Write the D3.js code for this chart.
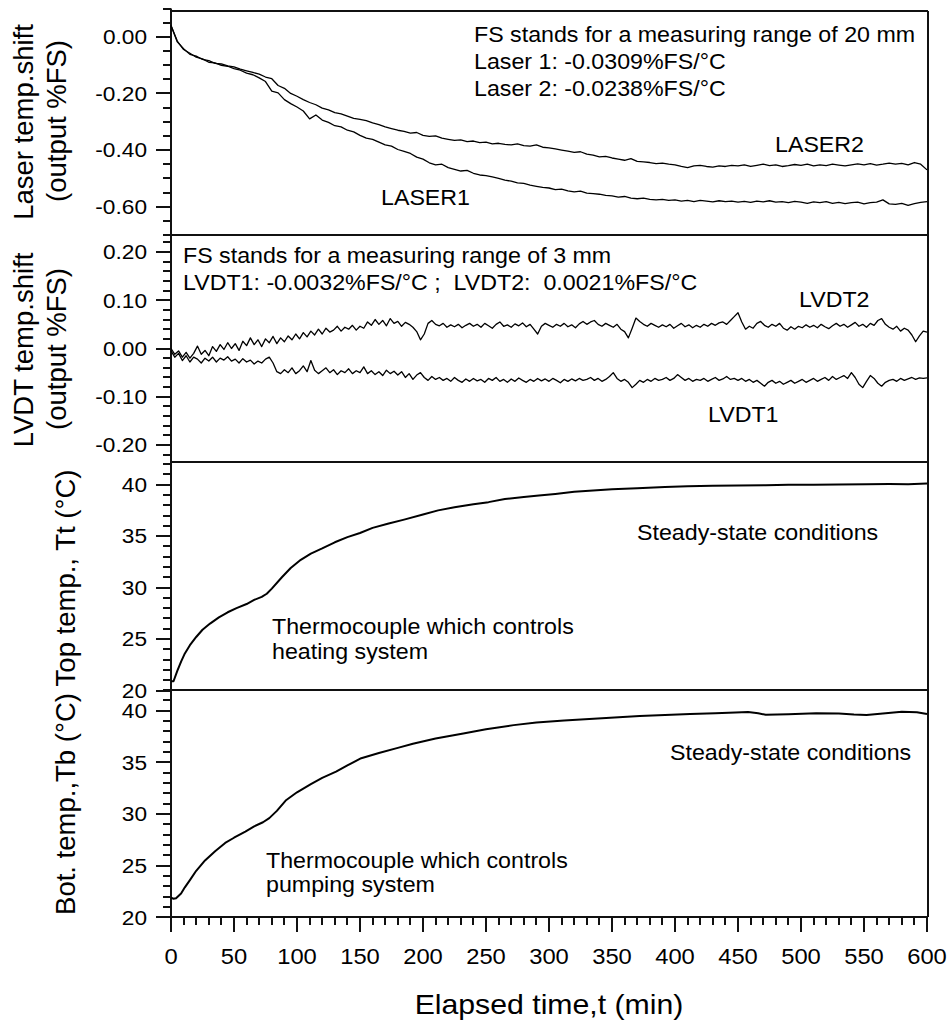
<!DOCTYPE html>
<html>
<head>
<meta charset="utf-8">
<script src="https://cdn.jsdelivr.net/npm/d3@7"></script>
<style>
  html, body { margin: 0; padding: 0; background: #fff; }
  svg text { font-family: "Liberation Sans", Arial, Helvetica, sans-serif; fill: #000; white-space: pre; }
</style>
</head>
<body>
<svg id="chart" width="949" height="1021"></svg>
<script>
// ---------------- data ----------------
// Laser temperature shift (output %FS), sampled every 5 min
const laserMinutes = d3.range(0, 601, 5);
const laser1 = [
  0.040, -0.015, -0.045, -0.058, -0.072, -0.078, -0.090, -0.092, -0.101, -0.104,
  -0.112, -0.118, -0.128, -0.134, -0.145, -0.158, -0.192, -0.198, -0.222, -0.236,
  -0.248, -0.262, -0.290, -0.276, -0.294, -0.302, -0.314, -0.318, -0.330, -0.336,
  -0.348, -0.358, -0.362, -0.372, -0.382, -0.386, -0.398, -0.405, -0.412, -0.425,
  -0.432, -0.445, -0.452, -0.450, -0.462, -0.468, -0.474, -0.472, -0.482, -0.488,
  -0.490, -0.495, -0.500, -0.506, -0.510, -0.516, -0.518, -0.524, -0.528, -0.532,
  -0.534, -0.540, -0.538, -0.544, -0.548, -0.545, -0.552, -0.554, -0.556, -0.560,
  -0.562, -0.566, -0.564, -0.570, -0.572, -0.570, -0.574, -0.576, -0.574, -0.578,
  -0.576, -0.580, -0.578, -0.582, -0.578, -0.580, -0.583, -0.579, -0.582, -0.580,
  -0.584, -0.581, -0.585, -0.580, -0.583, -0.579, -0.584, -0.582, -0.586, -0.581,
  -0.584, -0.588, -0.583, -0.586, -0.582, -0.588, -0.585, -0.589, -0.586, -0.584,
  -0.590, -0.586, -0.584, -0.576, -0.590, -0.592, -0.588, -0.595, -0.589, -0.585,
  -0.582
];
const laser2 = [
  0.040, -0.018, -0.042, -0.062, -0.068, -0.080, -0.084, -0.094, -0.096, -0.103,
  -0.106, -0.114, -0.120, -0.126, -0.132, -0.142, -0.148, -0.172, -0.182, -0.200,
  -0.210, -0.222, -0.232, -0.240, -0.252, -0.258, -0.268, -0.272, -0.280, -0.288,
  -0.292, -0.296, -0.304, -0.310, -0.318, -0.324, -0.330, -0.334, -0.340, -0.338,
  -0.348, -0.352, -0.350, -0.358, -0.362, -0.366, -0.364, -0.370, -0.368, -0.374,
  -0.372, -0.378, -0.376, -0.380, -0.382, -0.378, -0.384, -0.386, -0.382, -0.390,
  -0.392, -0.396, -0.400, -0.404, -0.408, -0.406, -0.414, -0.418, -0.424, -0.422,
  -0.428, -0.432, -0.436, -0.430, -0.440, -0.442, -0.444, -0.448, -0.446, -0.450,
  -0.452, -0.458, -0.462, -0.456, -0.454, -0.458, -0.460, -0.456, -0.458, -0.454,
  -0.456, -0.452, -0.458, -0.454, -0.450, -0.455, -0.452, -0.458, -0.455, -0.451,
  -0.454, -0.450, -0.456, -0.452, -0.455, -0.450, -0.453, -0.456, -0.452, -0.449,
  -0.452, -0.448, -0.453, -0.450, -0.446, -0.450, -0.447, -0.452, -0.444, -0.450,
  -0.470
];

// LVDT temperature shift (output %FS), sampled every 3 min
const lvdtMinutes = d3.range(0, 601, 3);
const lvdt1 = [
  -0.005, -0.018, -0.010, -0.025, -0.015, -0.028, -0.018, -0.022, -0.030, -0.020,
  -0.026, -0.018, -0.028, -0.020, -0.024, -0.017, -0.026, -0.022, -0.030, -0.021,
  -0.028, -0.024, -0.032, -0.026, -0.030, -0.022, -0.018, -0.030, -0.048, -0.052,
  -0.044, -0.050, -0.040, -0.052, -0.046, -0.036, -0.048, -0.025, -0.045, -0.052,
  -0.046, -0.040, -0.050, -0.044, -0.054, -0.046, -0.050, -0.042, -0.052, -0.046,
  -0.050, -0.038, -0.052, -0.046, -0.054, -0.048, -0.056, -0.045, -0.052, -0.047,
  -0.055, -0.048, -0.060, -0.052, -0.064, -0.055, -0.050, -0.060, -0.066, -0.058,
  -0.064, -0.060, -0.066, -0.062, -0.068, -0.060, -0.066, -0.070, -0.063, -0.068,
  -0.062, -0.067, -0.064, -0.070, -0.062, -0.066, -0.060, -0.068, -0.064, -0.070,
  -0.063, -0.068, -0.061, -0.066, -0.070, -0.064, -0.068, -0.062, -0.067, -0.063,
  -0.068, -0.062, -0.066, -0.071, -0.064, -0.068, -0.063, -0.067, -0.062, -0.066,
  -0.064, -0.060, -0.066, -0.062, -0.068, -0.064, -0.058, -0.050, -0.062, -0.068,
  -0.064, -0.070, -0.081, -0.074, -0.066, -0.070, -0.064, -0.068, -0.062, -0.066,
  -0.064, -0.060, -0.066, -0.062, -0.054, -0.060, -0.066, -0.062, -0.068, -0.064,
  -0.066, -0.062, -0.068, -0.064, -0.060, -0.066, -0.063, -0.058, -0.064, -0.062,
  -0.066, -0.062, -0.068, -0.064, -0.070, -0.066, -0.072, -0.078, -0.070, -0.066,
  -0.072, -0.068, -0.074, -0.070, -0.066, -0.072, -0.068, -0.064, -0.070, -0.066,
  -0.062, -0.068, -0.064, -0.060, -0.066, -0.058, -0.064, -0.060, -0.056, -0.062,
  -0.050, -0.060, -0.074, -0.081, -0.068, -0.056, -0.062, -0.072, -0.078, -0.070,
  -0.066, -0.064, -0.068, -0.062, -0.066, -0.063, -0.060, -0.064, -0.061, -0.062,
  -0.061
];
const lvdt2 = [
  0.000, -0.012, -0.005, -0.018, -0.008, -0.020, -0.010, 0.005, -0.012, -0.004,
  -0.015, 0.004, -0.006, 0.008, -0.002, 0.012, 0.000, 0.010, -0.004, 0.015,
  0.006, 0.022, 0.008, 0.018, 0.004, 0.020, 0.012, 0.025, 0.010, 0.022,
  0.014, 0.026, 0.018, 0.030, 0.020, 0.033, 0.024, 0.036, 0.028, 0.040,
  0.030, 0.042, 0.034, 0.038, 0.046, 0.036, 0.044, 0.040, 0.048, 0.038,
  0.046, 0.042, 0.055, 0.048, 0.060, 0.050, 0.058, 0.047, 0.062, 0.052,
  0.056, 0.046, 0.054, 0.050, 0.044, 0.035, 0.018, 0.030, 0.052, 0.058,
  0.050, 0.047, 0.052, 0.044, 0.049, 0.045, 0.050, 0.043, 0.048, 0.052,
  0.046, 0.050, 0.044, 0.052, 0.047, 0.042, 0.050, 0.055, 0.046, 0.049,
  0.044, 0.051, 0.047, 0.053, 0.045, 0.050, 0.040, 0.030, 0.046, 0.052,
  0.048, 0.044, 0.050, 0.046, 0.052, 0.045, 0.049, 0.043, 0.051, 0.056,
  0.050, 0.055, 0.058, 0.050, 0.046, 0.052, 0.048, 0.044, 0.050, 0.040,
  0.035, 0.022, 0.042, 0.063, 0.056, 0.050, 0.046, 0.052, 0.048, 0.044,
  0.049, 0.045, 0.050, 0.042, 0.047, 0.052, 0.045, 0.049, 0.043, 0.048,
  0.044, 0.050, 0.046, 0.052, 0.048, 0.053, 0.055, 0.050, 0.058, 0.066,
  0.074, 0.055, 0.040, 0.046, 0.042, 0.052, 0.056, 0.048, 0.044, 0.050,
  0.046, 0.052, 0.042, 0.038, 0.045, 0.040, 0.046, 0.043, 0.049, 0.044,
  0.048, 0.043, 0.050, 0.045, 0.041, 0.047, 0.052, 0.046, 0.050, 0.044,
  0.049, 0.054, 0.046, 0.050, 0.044, 0.052, 0.048, 0.058, 0.062, 0.050,
  0.044, 0.040, 0.046, 0.036, 0.042, 0.038, 0.028, 0.014, 0.026, 0.036,
  0.034
];

// Top thermocouple temperature Tt (°C)
const topMinutes = [0, 2, 5, 8, 11, 15, 20, 25, 31, 38, 45, 52, 60, 66, 72, 76, 80, 88, 95, 103,
  111, 120, 130, 140, 150, 160, 172, 185, 200, 212, 225, 240, 252, 265, 280, 292, 305, 320, 332, 350,
  370, 392, 410, 430, 450, 472, 490, 510, 530, 552, 570, 585, 600];
const topTemp = [20.9, 20.9, 21.9, 22.8, 23.6, 24.4, 25.2, 25.9, 26.5, 27.1, 27.6, 28.0, 28.4, 28.8, 29.1, 29.4, 29.9, 31.0, 31.9, 32.7,
  33.3, 33.8, 34.4, 34.9, 35.3, 35.8, 36.2, 36.6, 37.1, 37.5, 37.8, 38.1, 38.3, 38.6, 38.8, 38.95, 39.1, 39.3, 39.4, 39.55,
  39.65, 39.77, 39.85, 39.9, 39.92, 39.95, 39.98, 40.0, 40.02, 40.04, 40.06, 40.05, 40.1];

// Bottom thermocouple temperature Tb (°C)
const botMinutes = [0, 2, 4, 8, 11, 15, 20, 27, 35, 43, 50, 59, 66, 73, 78, 84, 91, 100, 111, 120,
  131, 140, 151, 165, 180, 192, 210, 232, 250, 272, 290, 312, 332, 352, 372, 392, 412, 432, 448, 458,
  466, 472, 490, 512, 530, 542, 552, 565, 580, 592, 600];
const botTemp = [21.9, 21.8, 21.85, 22.3, 22.9, 23.6, 24.5, 25.5, 26.4, 27.2, 27.7, 28.3, 28.8, 29.2, 29.6, 30.3, 31.3, 32.1, 32.9, 33.5,
  34.1, 34.7, 35.4, 35.9, 36.4, 36.8, 37.3, 37.8, 38.2, 38.6, 38.85, 39.05, 39.2, 39.35, 39.48, 39.58, 39.68, 39.75, 39.82, 39.87,
  39.75, 39.6, 39.65, 39.75, 39.72, 39.62, 39.58, 39.72, 39.9, 39.85, 39.68];

// tick labels
const timeTicks = [0, 50, 100, 150, 200, 250, 300, 350, 400, 450, 500, 550, 600];
const laserTicks = [0.00, -0.20, -0.40, -0.60];
const lvdtTicks = [0.20, 0.10, 0.00, -0.10, -0.20];
const tempTicks = [20, 25, 30, 35, 40];

// ---------------- drawing ----------------
const svg = d3.select("#chart");
const SX = 1.08;               // horizontal stretch applied to horizontal text
const plotL = 171, plotR = 928, plotB = 917;

const x = d3.scaleLinear().domain([0, 600]).range([171, 927]);

const panels = [
  { y: d3.scaleLinear().domain([-0.70, 0.10]).range([235, 8.5]),
    majors: laserTicks, minors: d3.range(-14, 3).filter(i => i % 4 !== 0).map(i => i * 0.05),
    fmt: d => d.toFixed(2) },
  { y: d3.scaleLinear().domain([-0.235, 0.235]).range([462, 235]),
    majors: lvdtTicks, minors: d3.range(-11, 12).filter(i => i % 5 !== 0).map(i => i * 0.02),
    fmt: d => d.toFixed(2) },
  { y: d3.scaleLinear().domain([20, 42.2]).range([690.5, 462]),
    majors: tempTicks, minors: d3.range(20, 43).filter(v => v % 5 !== 0),
    fmt: d => String(d) },
  { y: d3.scaleLinear().domain([20, 42]).range([917.3, 690]),
    majors: tempTicks, minors: d3.range(20, 43).filter(v => v % 5 !== 0),
    fmt: d => String(d) }
];

// y axes: spine plus minor and major ticks as one path per panel
panels.forEach(p => {
  const r = p.y.range();
  const path = d3.path();
  path.moveTo(plotL, r[0]);
  path.lineTo(plotL, r[1]);
  p.minors.forEach(v => {
    const yy = Math.round(p.y(v));
    path.moveTo(plotL - 8, yy);
    path.lineTo(plotL, yy);
  });
  p.majors.forEach(v => {
    const yy = Math.round(p.y(v));
    path.moveTo(plotL - 15, yy);
    path.lineTo(plotL, yy);
  });
  svg.append("path").attr("d", path.toString())
    .attr("fill", "none").attr("stroke", "#111").attr("stroke-width", 2);

  p.majors.forEach(v => {
    svg.append("text")
      .attr("transform", `translate(${plotL - 24},${p.y(v)}) scale(${SX},1)`)
      .attr("font-size", 21).attr("text-anchor", "end").attr("dy", "0.35em")
      .text(p.fmt(v));
  });
});

// x axis
const xPath = d3.path();
xPath.moveTo(plotL, plotB);
xPath.lineTo(plotR, plotB);
d3.range(0, 601, 10).forEach(v => {
  const xx = Math.round(x(v));
  xPath.moveTo(xx, plotB);
  xPath.lineTo(xx, plotB + (v % 50 === 0 ? 15 : 8));
});
svg.append("path").attr("d", xPath.toString())
  .attr("fill", "none").attr("stroke", "#111").attr("stroke-width", 2);
timeTicks.forEach(v => {
  svg.append("text")
    .attr("transform", `translate(${x(v)},${plotB + 47}) scale(${SX},1)`)
    .attr("font-size", 22).attr("text-anchor", "middle")
    .text(String(v));
});

// panel frames
const fPath = d3.path();
[11, 235, 462, 690].forEach(yy => { fPath.moveTo(plotL, yy); fPath.lineTo(plotR, yy); });
fPath.moveTo(plotR, 11); fPath.lineTo(plotR, plotB);
svg.append("path").attr("d", fPath.toString())
  .attr("fill", "none").attr("stroke", "#111").attr("stroke-width", 2);

// series
const lineOf = (yScale) => d3.line().x(d => x(d[0])).y(d => yScale(d[1]));
function drawSeries(times, values, yScale, width) {
  svg.append("path")
    .datum(times.map((t, i) => [t, values[i]]))
    .attr("fill", "none").attr("stroke", "#000")
    .attr("stroke-width", width).attr("stroke-linejoin", "round")
    .attr("d", lineOf(yScale));
}
drawSeries(laserMinutes, laser1, panels[0].y, 1.3);
drawSeries(laserMinutes, laser2, panels[0].y, 1.3);
drawSeries(lvdtMinutes, lvdt1, panels[1].y, 1.3);
drawSeries(lvdtMinutes, lvdt2, panels[1].y, 1.3);
drawSeries(topMinutes, topTemp, panels[2].y, 2);
drawSeries(botMinutes, botTemp, panels[3].y, 2);

// horizontal text with a slight horizontal stretch
function label(str, px, py, size, anchor) {
  svg.append("text")
    .attr("transform", `translate(${px},${py}) scale(${SX},1)`)
    .attr("font-size", size)
    .attr("text-anchor", anchor || "start")
    .text(str);
}

// laser panel notes
label("FS stands for a measuring range of 20 mm", 474, 42, 21.5);
label("Laser 1: -0.0309%FS/°C", 474, 69, 21.5);
label("Laser 2: -0.0238%FS/°C", 474, 96, 21.5);
label("LASER2", 775, 152, 21.5);
label("LASER1", 381, 205, 21.5);

// LVDT panel notes
label("FS stands for a measuring range of 3 mm", 183, 263, 21.5);
label("LVDT1: -0.0032%FS/°C ;  LVDT2:  0.0021%FS/°C", 183, 290, 21.5);
label("LVDT2", 799, 307, 21.5);
label("LVDT1", 708, 422, 21.5);

// temperature panel notes
label("Steady-state conditions", 637, 540, 21.5);
label("Thermocouple which controls", 272, 634, 21.5);
label("heating system", 272, 659, 21.5);
label("Steady-state conditions", 670, 760, 21.5);
label("Thermocouple which controls", 266, 868, 21.5);
label("pumping system", 266, 892, 21.5);

// axis titles
function vTitle(str, px, py) {
  svg.append("text")
    .attr("transform", `translate(${px},${py}) rotate(-90)`)
    .attr("font-size", 27.5)
    .attr("text-anchor", "middle")
    .text(str);
}
vTitle("Laser temp.shift", 33, 122);
vTitle("(output %FS)", 66, 121);
vTitle("LVDT temp.shift", 33, 350);
vTitle("(output %FS)", 66, 349);
vTitle("Top temp., Tt (°C)", 75, 578);
vTitle("Bot. temp.,Tb (°C)", 75, 804);

label("Elapsed time,t (min)", 549, 1014, 28, "middle");
</script>
</body>
</html>
